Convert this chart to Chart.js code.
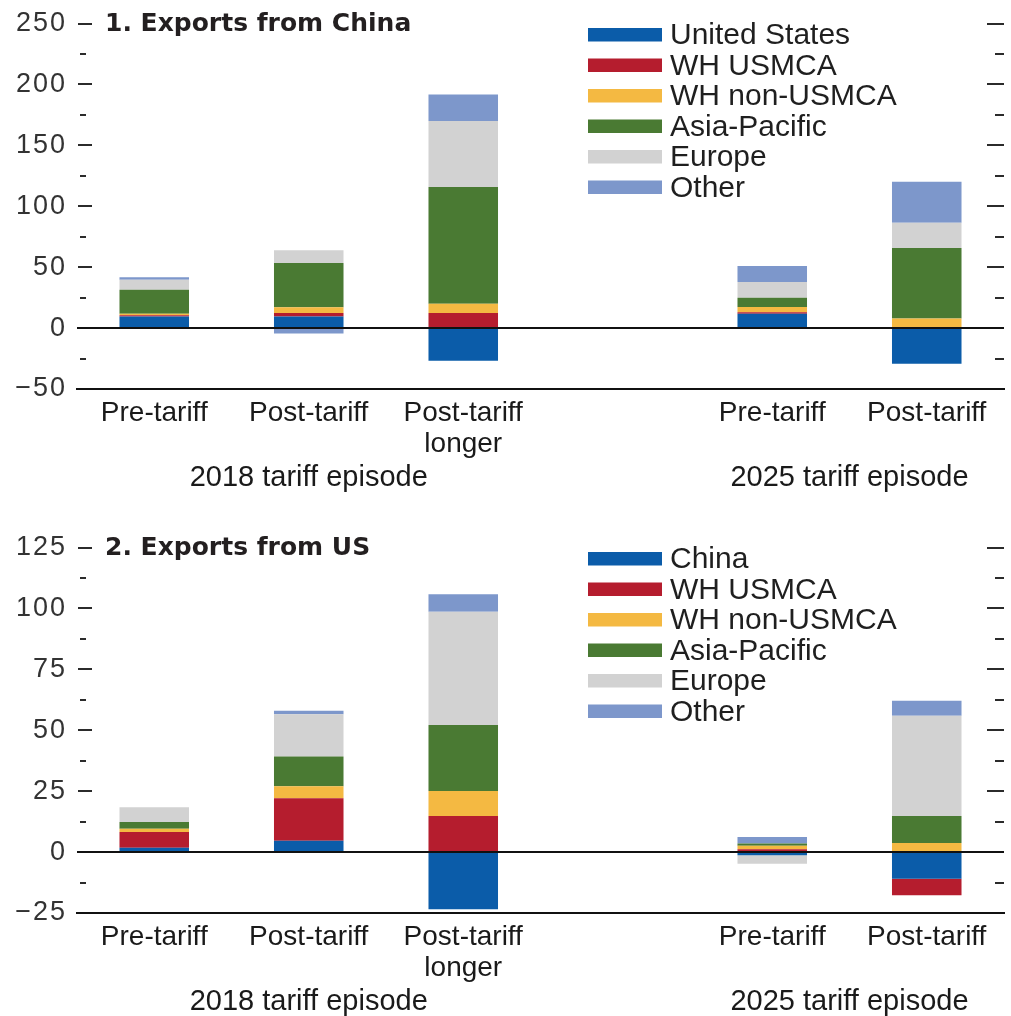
<!DOCTYPE html>
<html>
<head>
<meta charset="utf-8">
<title>Trade diversion after tariff episodes</title>
<script src="https://cdn.jsdelivr.net/npm/chart.js@4.4.1/dist/chart.umd.min.js"></script>
<style>
  html, body { margin: 0; padding: 0; background: #ffffff; }
  .panel { position: relative; width: 1011px; }
  #p1 { height: 524px; }
  #p2 { height: 492px; }
</style>
</head>
<body>
<div class="panel" id="p1"><canvas id="chinaChart"></canvas></div>
<div class="panel" id="p2"><canvas id="usChart"></canvas></div>
<script>
// Categories along the x axis (blank slot separates the two episodes)
const categories = ['Pre-tariff', 'Post-tariff', ['Post-tariff', 'longer'], '', 'Pre-tariff', 'Post-tariff'];
const episodeLabels = ['2018 tariff episode', '2025 tariff episode'];
const episodeFirst = [0, 4];
const episodeLast = [2, 5];

// Panel 1: exports from China, by destination
const chinaDestLabels = ['United States', 'WH USMCA', 'WH non-USMCA', 'Asia-Pacific', 'Europe', 'Other'];
const chinaToUnitedStates = [9.5, 9.6, -26.9, null, 11.8, -29.3];
const chinaToWHUSMCA      = [1.0, 2.7, 12.3, null, 1.1, 0.8];
const chinaToWHNonUSMCA   = [1.2, 4.9, 7.7, null, 4.4, 7.0];
const chinaToAsiaPacific  = [19.7, 36.2, 95.9, null, 7.7, 58.0];
const chinaToEurope       = [8.2, 10.4, 54.0, null, 12.8, 20.6];
const chinaToOther        = [2.2, -4.5, 21.9, null, 13.2, 33.7];
const chinaTicks = { min: -50, max: 250, step: 25, major: 50 };

// Panel 2: exports from the US, by destination
const usDestLabels = ['China', 'WH USMCA', 'WH non-USMCA', 'Asia-Pacific', 'Europe', 'Other'];
const usToChina        = [1.8, 4.7, -23.5, null, -1.3, -10.9];
const usToWHUSMCA      = [6.4, 17.4, 14.8, null, 1.2, -6.8];
const usToWHNonUSMCA   = [1.4, 4.9, 10.3, null, 1.4, 3.7];
const usToAsiaPacific  = [2.7, 12.2, 27.1, null, 0.9, 11.1];
const usToEurope       = [6.1, 17.4, 46.4, null, -3.5, 41.1];
const usToOther        = [0, 1.4, 7.2, null, 2.7, 6.2];
const usTicks = { min: -25, max: 125, step: 12.5, major: 25 };

// Destination colours, in stacking order
const destColors = ['#0b5ca9', '#b51d2e', '#f4b942', '#4a7a33', '#d2d2d2', '#7d97cb'];

const SANS = '"Liberation Sans", Arial, sans-serif';

function fmtTick(v) {
  return v < 0 ? '\u2212' + Math.abs(v) : String(v);
}

// Draws the in-plot tick marks, panel title, legend and episode labels
const panelDecor = {
  id: 'panelDecor',
  afterUpdate(chart) {
    const s = chart.scales.y;
    if (s && !s._spacedLabels) {
      const orig = s.drawLabels;
      s.drawLabels = function (area) {
        const c = this.ctx;
        c.save();
        c.letterSpacing = '2px';
        orig.call(this, area);
        c.restore();
      };
      s._spacedLabels = true;
    }
  },
  afterDraw(chart, args, opts) {
    const { ctx, chartArea: a, scales: { x, y } } = chart;
    ctx.save();

    // inner tick marks on both sides
    ctx.strokeStyle = '#2b2b2b';
    ctx.lineWidth = 2;
    y.ticks.forEach(t => {
      if (t.value === y.min || t.value === 0) return;
      const py = Math.round(y.getPixelForValue(t.value));
      const major = t.value % opts.major === 0;
      ctx.beginPath();
      if (major) {
        ctx.moveTo(a.left + 1, py); ctx.lineTo(a.left + 15, py);
        ctx.moveTo(a.right - 17, py); ctx.lineTo(a.right, py);
      } else {
        ctx.moveTo(a.left + 3, py); ctx.lineTo(a.left + 9, py);
        ctx.moveTo(a.right - 9, py); ctx.lineTo(a.right, py);
      }
      ctx.stroke();
    });

    // panel title
    ctx.fillStyle = '#231f20';
    ctx.font = 'bold 25px "DejaVu Sans", sans-serif';
    ctx.textAlign = 'left';
    ctx.textBaseline = 'middle';
    ctx.fillText(opts.title, 105, y.getPixelForValue(y.max) + 1);

    // legend
    ctx.font = '30px ' + SANS;
    ctx.textBaseline = 'middle';
    chart.data.datasets.forEach((ds, i) => {
      const top = 28 + i * 30.5;
      ctx.fillStyle = ds.backgroundColor;
      ctx.fillRect(588, top, 74, 13.5);
      ctx.fillStyle = '#1f1f1f';
      ctx.fillText(ds.label, 670, top + 8);
    });

    // episode labels under the category labels
    ctx.font = '29px ' + SANS;
    ctx.textAlign = 'center';
    ctx.textBaseline = 'middle';
    ctx.fillStyle = '#1a1a1a';
    episodeLabels.forEach((lbl, i) => {
      const cx = (x.getPixelForValue(episodeFirst[i]) + x.getPixelForValue(episodeLast[i])) / 2;
      ctx.fillText(lbl, cx, a.bottom + 89);
    });

    ctx.restore();
  }
};

function buildChart(canvasId, labels, series, ticks, title, canvasHeight) {
  return new Chart(document.getElementById(canvasId), {
    type: 'bar',
    data: {
      labels: categories,
      datasets: series.map((values, i) => ({
        label: labels[i],
        data: values,
        backgroundColor: destColors[i],
        borderWidth: 0,
        barPercentage: 0.45,
        categoryPercentage: 1.0
      }))
    },
    options: {
      responsive: true,
      maintainAspectRatio: false,
      animation: false,
      devicePixelRatio: 1,
      layout: { padding: { top: 22, right: 7, left: 0, bottom: 0 } },
      plugins: {
        legend: { display: false },
        tooltip: { enabled: false },
        panelDecor: { title: title, major: ticks.major }
      },
      scales: {
        x: {
          stacked: true,
          grid: { display: false, drawTicks: false },
          border: { display: true, color: '#111111', width: 2 },
          ticks: {
            autoSkip: false,
            maxRotation: 0,
            padding: 9,
            color: '#1a1a1a',
            font: { family: SANS, size: 28, lineHeight: 1.1 }
          },
          afterFit(scale) { scale.height = canvasHeight - 389; }
        },
        y: {
          stacked: true,
          min: ticks.min,
          max: ticks.max,
          border: { display: false },
          grid: {
            drawTicks: false,
            lineWidth: 2,
            color: c => (c.tick && c.tick.value === 0 ? '#111111' : 'rgba(0,0,0,0)')
          },
          ticks: {
            stepSize: ticks.step,
            padding: 10,
            color: '#333333',
            font: { family: SANS, size: 27, lineHeight: 1.0 },
            callback: v => (v % ticks.major === 0 ? fmtTick(v) : '')
          },
          afterFit(scale) { scale.width = 77; }
        }
      }
    },
    plugins: [panelDecor]
  });
}

buildChart('chinaChart', chinaDestLabels,
  [chinaToUnitedStates, chinaToWHUSMCA, chinaToWHNonUSMCA, chinaToAsiaPacific, chinaToEurope, chinaToOther],
  chinaTicks, '1. Exports from China', 524);

buildChart('usChart', usDestLabels,
  [usToChina, usToWHUSMCA, usToWHNonUSMCA, usToAsiaPacific, usToEurope, usToOther],
  usTicks, '2. Exports from US', 492);
</script>
</body>
</html>
